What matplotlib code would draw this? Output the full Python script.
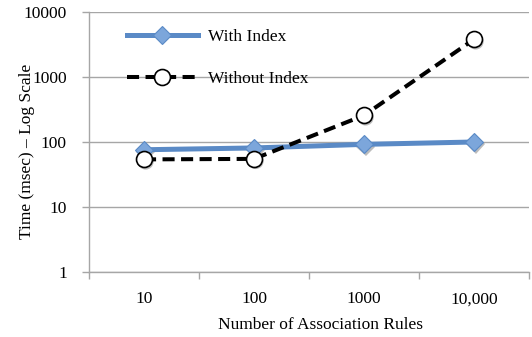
import matplotlib
matplotlib.use("Agg")
import matplotlib.pyplot as plt
import matplotlib.patheffects as pe
from matplotlib.ticker import FixedLocator, FixedFormatter

categories = ["10", "100", "1000", "10,000"]
with_index = [76, 81, 92, 100]
without_index = [54, 55, 257, 3800]
y_ticks = [1, 10, 100, 1000, 10000]
y_tick_labels = ["1", "10", "100", "1000", "10000"]

plt.rcParams["font.family"] = ["Liberation Serif", "DejaVu Serif"]
fs = 12.5

fig = plt.figure(figsize=(5.32, 3.37), dpi=100)
ax = fig.add_axes([89 / 532, 1 - 272 / 337, 440 / 532, 260 / 337])

x = list(range(len(categories)))
grid_c = "#a6a6a6"

# soft drop shadows beneath the markers
shadow = [pe.SimplePatchShadow(offset=(1.2, -1.6), shadow_rgbFace="0.25", alpha=0.35)]
ax.plot(x, with_index, ls="none", marker="D", ms=9.5, mfc="0.3", mec="none",
        path_effects=shadow, zorder=2.5)
ax.plot(x, without_index, ls="none", marker="o", ms=11.5, mfc="0.3", mec="none",
        path_effects=shadow, zorder=2.5)

ax.plot(x, with_index, color="#5A8AC6", lw=3.6, marker="D", ms=9.5,
        mfc="#7CA6DB", mec="#5A8AC6", mew=0.8, label="With Index", zorder=3)
ax.plot(x, without_index, color="black", lw=2.9, ls=(0, (3, 1.6)), marker="o",
        ms=11.5, mfc="white", mec="black", mew=1.2, label="Without Index", zorder=4)

ax.set_yscale("log")
ax.set_ylim(1, 10000)
ax.yaxis.set_major_locator(FixedLocator(y_ticks))
ax.yaxis.set_major_formatter(FixedFormatter(y_tick_labels))
ax.yaxis.set_minor_locator(FixedLocator([]))
ax.set_xlim(-0.5, len(categories) - 0.5)
ax.set_xticks(x)
ax.set_xticklabels(categories)
ax.set_xticks([i - 0.5 for i in range(len(categories) + 1)], minor=True)
ax.tick_params(axis="x", which="major", length=0, pad=14, labelsize=fs)
ax.tick_params(axis="x", which="minor", length=5, color=grid_c, width=1)
ax.tick_params(axis="y", which="major", length=5, color=grid_c, width=1,
               labelsize=fs, pad=11)

ax.grid(axis="y", color=grid_c, lw=1)
ax.set_axisbelow(True)
for s in ["top", "right"]:
    ax.spines[s].set_visible(False)
for s in ["left", "bottom"]:
    ax.spines[s].set_color(grid_c)
    ax.spines[s].set_linewidth(1)

ax.set_xlabel("Number of Association Rules", fontsize=fs)
ax.xaxis.set_label_coords(0.527, -0.172)
ax.set_ylabel("Time (msec) \u2013 Log Scale", fontsize=fs)
ax.yaxis.set_label_coords(-0.123, 0.465)

leg = ax.legend(loc="upper left", bbox_to_anchor=(0.07, 0.96), frameon=False,
                handlelength=4.1, handletextpad=0.6, labelspacing=1.45,
                fontsize=fs, borderaxespad=0)

fig.savefig("out.png", dpi=100)
